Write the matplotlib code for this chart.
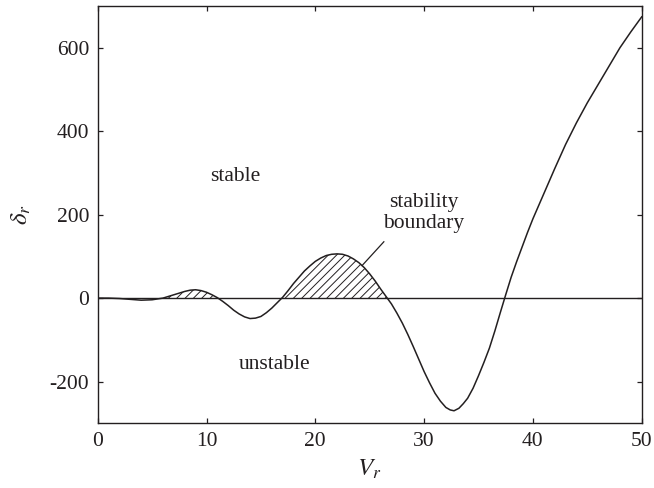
import matplotlib
matplotlib.use("Agg")
import matplotlib.pyplot as plt
import numpy as np

V = [0, 1, 2, 3, 4, 5, 6, 6.5, 7, 7.5, 8, 8.5, 9, 9.5, 10, 10.5, 11, 11.5, 12,
     12.5, 13, 13.5, 14, 14.5, 15, 15.5, 16, 16.5, 17, 17.5, 18, 18.5, 19,
     19.5, 20, 20.5, 21, 21.5, 22, 22.5, 23, 23.5, 24, 24.5, 25, 25.5, 26,
     26.5, 27, 27.5, 28, 28.5, 29, 29.5, 30, 30.5, 31, 31.5, 32, 32.4, 32.75,
     33.2, 33.6, 34, 34.5, 35, 35.5, 36, 36.5, 37, 37.5, 38, 38.5, 39, 39.5,
     40, 41, 42, 43, 44, 45, 46, 47, 48, 49, 50]
delta = [0, 0, -1, -3, -5, -4, 0, 4, 8, 12, 16, 19, 20, 18, 14, 8, 1, -8, -18,
         -29, -38, -45, -49, -48, -44, -35, -24, -11, 2, 18, 35, 50, 65,
         77, 88, 96, 102, 105, 106, 105, 101, 94, 85, 73, 58, 41, 22,
         4, -14, -36, -60, -87, -116, -146, -176, -203, -228, -247, -262, -268, -270,
         -264, -253, -240, -216, -186, -154, -120, -79, -35, 8, 50, 87, 122, 157,
         190, 250, 310, 368, 420, 468, 512, 556, 600, 638, 674]

xticks = [0, 10, 20, 30, 40, 50]
yticks = [-200, 0, 200, 400, 600]
ytick_labels = ["-200", "0", "200", "400", "600"]

plt.rcParams['font.family'] = ['Liberation Serif', 'DejaVu Serif']
plt.rcParams['mathtext.fontset'] = 'stix'
plt.rcParams['hatch.linewidth'] = 0.7
ink = '#231f20'

fig = plt.figure(figsize=(6.54, 4.88), dpi=100)
ax = fig.add_axes([0.1494, 0.1326, 0.9812 - 0.1494, 0.9877 - 0.1326])

Va = np.array(V)
da = np.array(delta)
mask = (da >= 0) & (Va < 30)
ax.fill_between(Va, 0, da, where=mask, interpolate=True, facecolor='none',
                edgecolor=ink, hatch='////', linewidth=0)
ax.axhline(0, color=ink, lw=1.0)
ax.plot(Va, da, color=ink, lw=1.1)

ax.plot([24.3, 26.3], [78, 135], color=ink, lw=0.9)
ax.text(30.0, 204, "stability\nboundary", ha='center', va='center',
        fontsize=15.5, color=ink, linespacing=1.2)
ax.text(12.6, 292, "stable", ha='center', va='center', fontsize=15.5, color=ink)
ax.text(16.3, -160, "unstable", ha='center', va='center', fontsize=15.5, color=ink)

ax.set_xlim(0, 50)
ax.set_ylim(-300, 700)
ax.set_xticks(xticks)
ax.set_yticks(yticks)
ax.set_yticklabels(ytick_labels)
ax.tick_params(direction='in', top=True, right=True, length=3.5, width=0.9,
               labelsize=15.5, colors=ink, pad=6)
for s in ax.spines.values():
    s.set_color(ink)
    s.set_linewidth(1.0)

ax.set_xlabel(r"$V_r$", fontsize=18, color=ink, labelpad=5)
ax.set_ylabel(r"$\delta_r$", fontsize=18, color=ink, labelpad=12)

fig.savefig("out.png", dpi=100)
